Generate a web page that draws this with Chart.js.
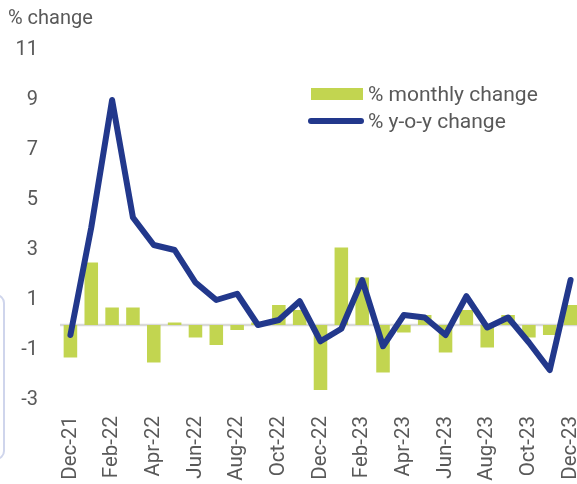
<!DOCTYPE html>
<html>
<head>
<meta charset="utf-8">
<script src="https://cdn.jsdelivr.net/npm/chart.js@4.4.1/dist/chart.umd.min.js"></script>
<style>
    html, body { margin: 0; padding: 0; background: #fff; overflow: hidden; }
    body { width: 577px; height: 484px; position: relative; font-family: Roboto, sans-serif; color: #595959; }
    #wrap { position: absolute; left: 0; top: 0; width: 581px; height: 484px; }
    #titulo { position: absolute; left: 8px; top: 5px; font-size: 20px; }
    #marco { position: absolute; left: -20px; top: 294px; width: 21px; height: 162px; border: 2px solid #cfd5ec; border-radius: 9px; }
    .leyenda { position: absolute; left: 308px; font-size: 21px; line-height: 24px; }
    .leyenda span { display: inline-block; vertical-align: middle; }
    #ley1 { top: 81px; }
    #ley2 { top: 108px; }
    .caja { width: 52px; height: 12px; background: #c2d550; margin-left: 3px; margin-right: 5px; }
    .raya { width: 56px; height: 6px; border-radius: 3px; background: #22388c; margin-right: 4px; }
</style>
</head>
<body>
<div id="wrap"><canvas id="grafico" width="581" height="484"></canvas></div>
<div id="titulo">% change</div>
<div id="marco"></div>
<div class="leyenda" id="ley1"><span class="caja"></span><span>% monthly change</span></div>
<div class="leyenda" id="ley2"><span class="raya"></span><span>% y-o-y change</span></div>

<script>
// Meses (se muestra uno de cada dos en el eje)
const meses = ['Dec-21', 'Jan-22', 'Feb-22', 'Mar-22', 'Apr-22', 'May-22', 'Jun-22', 'Jul-22', 'Aug-22', 'Sep-22', 'Oct-22', 'Nov-22',
    'Dec-22', 'Jan-23', 'Feb-23', 'Mar-23', 'Apr-23', 'May-23', 'Jun-23', 'Jul-23', 'Aug-23', 'Sep-23', 'Oct-23', 'Nov-23', 'Dec-23'];

const cambioMensual = [-1.3, 2.5, 0.7, 0.7, -1.5, 0.1, -0.5, -0.8, -0.2, 0.1, 0.8, 0.6,
    -2.6, 3.1, 1.9, -1.9, -0.3, 0.4, -1.1, 0.6, -0.9, 0.4, -0.5, -0.4, 0.8];

const cambioAnual = [-0.4, 3.9, 9.0, 4.3, 3.2, 3.0, 1.7, 1.0, 1.25, 0.0, 0.2, 0.95,
    -0.65, -0.15, 1.8, -0.85, 0.4, 0.3, -0.4, 1.15, -0.1, 0.3, -0.7, -1.8, 1.8];

const ticksY = { min: -3, max: 11, paso: 2 };

// Linea del cero
const lineaCero = {
    id: 'lineaCero',
    beforeDatasetsDraw(chart) {
        const ctx = chart.ctx;
        const y = chart.scales.y.getPixelForValue(0);
        ctx.save();
        ctx.strokeStyle = '#d9d9d9';
        ctx.lineWidth = 2.5;
        ctx.beginPath();
        ctx.moveTo(chart.chartArea.left, y);
        ctx.lineTo(chart.chartArea.right, y);
        ctx.stroke();
        ctx.restore();
    }
};

new Chart(document.getElementById('grafico'), {
    type: 'bar',
    data: {
        labels: meses,
        datasets: [
            {
                type: 'line',
                label: '% y-o-y change',
                data: cambioAnual,
                borderColor: '#22388c',
                borderWidth: 6,
                pointRadius: 0,
                tension: 0,
                borderCapStyle: 'round',
                borderJoinStyle: 'round',
                order: 0
            },
            {
                label: '% monthly change',
                data: cambioMensual,
                backgroundColor: '#c2d550',
                barPercentage: 0.65,
                categoryPercentage: 1,
                order: 1
            }
        ]
    },
    options: {
        responsive: false,
        animation: false,
        layout: { padding: { top: 50, left: 0, right: 0, bottom: 0 } },
        plugins: { legend: { display: false }, tooltip: { enabled: false } },
        scales: {
            x: {
                grid: { display: false, drawTicks: false },
                border: { display: false },
                afterFit: function (scale) {
                    scale.height = 84;
                    scale.paddingLeft = 0;
                    scale.paddingRight = 0;
                },
                ticks: {
                    autoSkip: false,
                    maxRotation: 90,
                    minRotation: 90,
                    padding: 16,
                    color: '#595959',
                    font: { family: 'Roboto', size: 20.5 },
                    callback: function (v, i) { return i % 2 === 0 ? meses[i] : ''; }
                }
            },
            y: {
                min: ticksY.min,
                max: ticksY.max,
                grid: { display: false, drawTicks: false },
                border: { display: false },
                afterFit: function (scale) { scale.width = 60; },
                ticks: {
                    stepSize: ticksY.paso,
                    padding: 22,
                    color: '#595959',
                    font: { family: 'Roboto', size: 20 }
                }
            }
        }
    },
    plugins: [lineaCero]
});
</script>
</body>
</html>
